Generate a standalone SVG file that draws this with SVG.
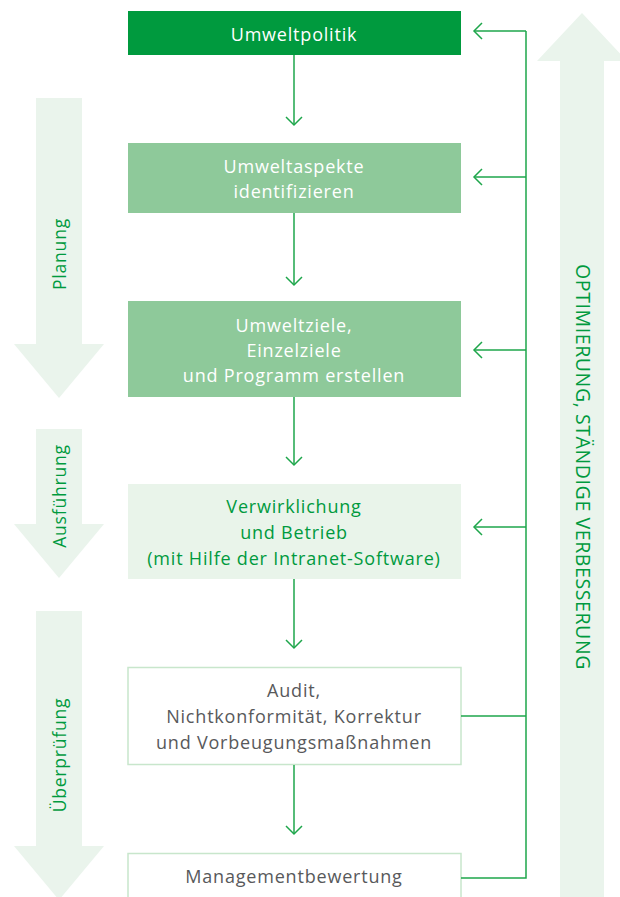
<svg xmlns="http://www.w3.org/2000/svg" width="620" height="897" viewBox="0 0 620 897">
<defs>
<style>
.bg{fill:#eaf4ec}
.t{font-family:"Open Sans","Noto Sans",sans-serif;font-size:18px;letter-spacing:0.8px;text-anchor:middle}
.w{fill:#ffffff}
.g{fill:#009a3e}
.k{fill:#58595b}
.ln{fill:none;stroke:#1ea64b;stroke-width:1.5}
.side{font-family:"Open Sans","Noto Sans",sans-serif;font-size:17.5px;letter-spacing:0.8px;fill:#009a3e;text-anchor:middle}
.big{font-size:19.5px;letter-spacing:0.6px}
</style>
<marker id="ah" viewBox="0 0 20 20" refX="10" refY="10" markerWidth="20" markerHeight="20" markerUnits="userSpaceOnUse" orient="auto">
<path d="M2,2 L10,10 L2,18" fill="none" stroke="#1ea64b" stroke-width="1.5"/>
</marker>
</defs>
<g id="phase-arrows">
<polygon class="bg" points="36,98 82,98 82,344 104,344 59,398 14,344 36,344"/>
<polygon class="bg" points="36,429 82,429 82,524 104,524 59,578 14,524 36,524"/>
<polygon class="bg" points="36,611 82,611 82,846 104,846 59,900 14,846 36,846"/>
<polygon class="bg" points="560,897 604,897 604,61 627,61 582,13 537,61 560,61"/>
<text class="side" transform="translate(66,254) rotate(-90)">Planung</text>
<text class="side" transform="translate(66,496) rotate(-90)">Ausführung</text>
<text class="side" transform="translate(66,755) rotate(-90)">Überprüfung</text>
<text class="side big" transform="translate(576,467) rotate(90)">OPTIMIERUNG, STÄNDIGE VERBESSERUNG</text>
</g>
<g id="n1">
<rect x="128" y="11" width="333" height="44" fill="#009a3e"/>
<text class="t w" x="294" y="41">Umweltpolitik</text>
</g>
<g id="n2">
<rect x="128" y="143" width="333" height="70" fill="#8ec99a"/>
<text class="t w" x="294" y="173">Umweltaspekte</text>
<text class="t w" x="294" y="198">identifizieren</text>
</g>
<g id="n3">
<rect x="128" y="301" width="333" height="96" fill="#8ec99a"/>
<text class="t w" x="294" y="332">Umweltziele,</text>
<text class="t w" x="294" y="357">Einzelziele</text>
<text class="t w" x="294" y="382">und Programm erstellen</text>
</g>
<g id="n4">
<rect x="128" y="484" width="333" height="95" fill="#e9f4ea"/>
<text class="t g" x="294" y="513">Verwirklichung</text>
<text class="t g" x="294" y="539">und Betrieb</text>
<text class="t g" x="294" y="565">(mit Hilfe der Intranet-Software)</text>
</g>
<g id="n5">
<rect x="128" y="667.5" width="333" height="97" fill="#ffffff" stroke="#c8e6cc" stroke-width="1.5"/>
<text class="t k" x="294" y="697">Audit,</text>
<text class="t k" x="294" y="723">Nichtkonformität, Korrektur</text>
<text class="t k" x="294" y="749">und Vorbeugungsmaßnahmen</text>
</g>
<g id="n6">
<rect x="128" y="853.5" width="333" height="60" fill="#ffffff" stroke="#c8e6cc" stroke-width="1.5"/>
<text class="t k" x="294" y="883">Managementbewertung</text>
</g>
<g id="connectors">
<line class="ln" x1="294" y1="55" x2="294" y2="125" marker-end="url(#ah)"/>
<line class="ln" x1="294" y1="213" x2="294" y2="285" marker-end="url(#ah)"/>
<line class="ln" x1="294" y1="397" x2="294" y2="465" marker-end="url(#ah)"/>
<line class="ln" x1="294" y1="579" x2="294" y2="648" marker-end="url(#ah)"/>
<line class="ln" x1="294" y1="765" x2="294" y2="834" marker-end="url(#ah)"/>
<polyline class="ln" points="461,716 526,716"/>
<polyline class="ln" points="461,878 526,878 526,31"/>
<line class="ln" x1="526" y1="31" x2="474" y2="31" marker-end="url(#ah)"/>
<line class="ln" x1="526" y1="177" x2="474" y2="177" marker-end="url(#ah)"/>
<line class="ln" x1="526" y1="350" x2="474" y2="350" marker-end="url(#ah)"/>
<line class="ln" x1="526" y1="527" x2="474" y2="527" marker-end="url(#ah)"/>
</g>
</svg>
